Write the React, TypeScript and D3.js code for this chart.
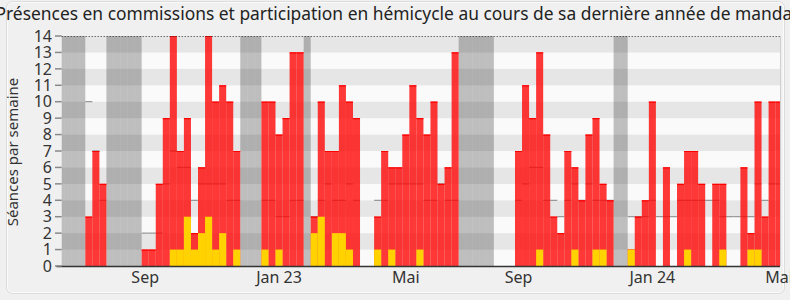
import React from "react";
import * as d3 from "d3";

const presences = [
  0, 0, 0, 3, 7, 5, 0, 0, 0, 0,
  0, 1, 1, 5, 9, 14, 7, 9, 2, 6,
  14, 10, 11, 10, 7, 0, 0, 0, 10, 10,
  8, 9, 13, 13, 0, 3, 10, 7, 7, 11,
  10, 9, 0, 0, 3, 7, 6, 6, 8, 11,
  9, 8, 10, 5, 6, 13, 0, 0, 0, 0,
  0, 0, 0, 0, 7, 11, 9, 13, 8, 3,
  2, 7, 6, 4, 8, 9, 5, 4, 0, 0,
  1, 3, 4, 10, 0, 6, 0, 5, 7, 7,
  5, 0, 5, 5, 0, 0, 6, 2, 10, 3,
  10, 10,
];

const participations = [
  0, 0, 0, 0, 0, 0, 0, 0, 0, 0,
  0, 0, 0, 0, 0, 1, 1, 3, 1, 2,
  3, 1, 2, 0, 1, 0, 0, 0, 1, 0,
  1, 0, 0, 0, 0, 2, 3, 0, 2, 2,
  1, 0, 0, 0, 1, 0, 1, 0, 0, 0,
  1, 0, 0, 0, 0, 0, 0, 0, 0, 0,
  0, 0, 0, 0, 0, 0, 0, 1, 0, 0,
  0, 0, 1, 0, 0, 1, 1, 0, 0, 0,
  1, 0, 0, 0, 0, 0, 0, 0, 1, 0,
  0, 0, 0, 1, 0, 0, 0, 1, 1, 0,
  0, 0,
];

const mediane = [
  0, 0, 0, 10, 7, 4, 0, 0, 0, 0,
  0, 2, 2, 2, 5, 7, 6, 6, 4, 5,
  5, 5, 5, 4, 4, 0, 0, 0, 4, 4,
  3, 3, 4, 4, 0, 3, 4, 5, 4, 4,
  5, 4, 0, 0, 4, 4, 5, 5, 5, 5,
  5, 4, 4, 5, 4, 4, 0, 0, 0, 0,
  0, 0, 0, 0, 4, 5, 6, 6, 4, 4,
  3, 4, 5, 4, 5, 4, 4, 4, 0, 0,
  3, 3, 3, 4, 3, 3, 3, 4, 4, 4,
  4, 4, 4, 3, 3, 3, 3, 3, 5, 4,
  5, 5,
];

const vacances = [-1, 0, 1, 2, 6, 7, 8, 9, 10, 25, 26, 27, 34, 56, 57, 58, 59, 60, 78, 79];

const tickLabels = ["Sep", "Jan 23", "Mai", "Sep", "Jan 24", "Mai"];
const tickWeeks = [11, 30, 48, 64, 83, 101];
const yTicks = d3.range(0, 15);

const title =
  "Présences en commissions et participation en hémicycle au cours de sa dernière année de mandat";
const yTitle = "Séances par semaine";

const FONT = "'Noto Sans', 'Open Sans', sans-serif";

export default function App() {
  const W = 790;
  const H = 300;
  const left = 61.7;
  const right = 780;
  const top = 36;
  const bottom = 266;

  const x = d3.scaleLinear().domain([-0.35, 101.62]).range([left, right]);
  const y = d3.scaleLinear().domain([0, 14]).range([bottom, top]);

  const weeks = d3.range(presences.length);

  return (
    <svg
      width={W}
      height={H}
      style={{ position: "absolute", left: 0, top: 0, display: "block" }}
      fontFamily={FONT}
    >
      <defs>
        <clipPath id="plot">
          <rect x={left} y={top} width={right - left} height={bottom - top} />
        </clipPath>
      </defs>
      <rect x={0} y={0} width={W} height={H} fill="#f0f0f0" />
      <rect x={6.5} y={1.5} width={778} height={292} rx={6} fill="#f0f0f0" stroke="#dcdcdc" />
      <rect x={7.5} y={2.5} width={776} height={290} rx={5} fill="none" stroke="#fbfbfb" />

      <text x={397} y={20} textAnchor="middle" fontSize={17.4} fill="#222">
        {title}
      </text>

      <g clipPath="url(#plot)">
        {d3.range(14).map((v) => (
          <rect
            key={"s" + v}
            x={left}
            width={right - left}
            y={y(v + 1)}
            height={y(v) - y(v + 1)}
            fill={v % 2 === 1 ? "#e6e6e6" : "#fafafa"}
          />
        ))}
        {vacances.map((w) => (
          <rect
            key={"v" + w}
            x={x(w)}
            width={x(w + 1) - x(w)}
            y={top}
            height={bottom - top}
            fill="#000"
            fillOpacity={0.24}
          />
        ))}
        {weeks.map((w) =>
          mediane[w] > 0 ? (
            <line
              key={"m" + w}
              x1={x(w)}
              x2={x(w + 1)}
              y1={y(mediane[w])}
              y2={y(mediane[w])}
              stroke="#999"
              strokeWidth={1.3}
            />
          ) : null
        )}
        {weeks.map((w) =>
          presences[w] > 0 ? (
            <g key={"p" + w}>
              <rect
                x={x(w)}
                width={x(w + 1) - x(w)}
                y={y(presences[w])}
                height={bottom - y(presences[w])}
                fill="#ff0000"
                fillOpacity={0.78}
              />
              <line
                x1={x(w)}
                x2={x(w + 1)}
                y1={y(presences[w]) + 0.5}
                y2={y(presences[w]) + 0.5}
                stroke="#ff0000"
                strokeWidth={1.2}
              />
            </g>
          ) : null
        )}
        {weeks.map((w) =>
          participations[w] > 0 ? (
            <rect
              key={"y" + w}
              x={x(w)}
              width={x(w + 1) - x(w)}
              y={y(participations[w])}
              height={bottom - y(participations[w])}
              fill="#ffd200"
            />
          ) : null
        )}
      </g>

      <line x1={left} x2={right} y1={top + 0.5} y2={top + 0.5} stroke="#333" strokeDasharray="1,2" />
      <line x1={right + 0.5} x2={right + 0.5} y1={top} y2={bottom} stroke="#d0d0d0" />
      <line x1={56.5} x2={right} y1={bottom + 0.5} y2={bottom + 0.5} stroke="#333" strokeWidth={1.5} />

      {yTicks.map((v) => (
        <g key={"t" + v}>
          <line x1={55} x2={left} y1={y(v)} y2={y(v)} stroke="#888" strokeWidth={1.5} />
          <text
            x={52}
            y={y(v)}
            dy="0.36em"
            textAnchor="end"
            fontSize={16}
            fill="#333"
          >
            {v}
          </text>
        </g>
      ))}

      {tickLabels.map((lab, i) => (
        <text
          key={"x" + i}
          x={x(tickWeeks[i] + 0.5)}
          y={283}
          textAnchor="middle"
          fontSize={16}
          fill="#333"
        >
          {lab}
        </text>
      ))}

      <text
        transform={`translate(18,${(top + bottom) / 2 + 1}) rotate(-90)`}
        textAnchor="middle"
        fontSize={15}
        fill="#333"
      >
        {yTitle}
      </text>
    </svg>
  );
}
